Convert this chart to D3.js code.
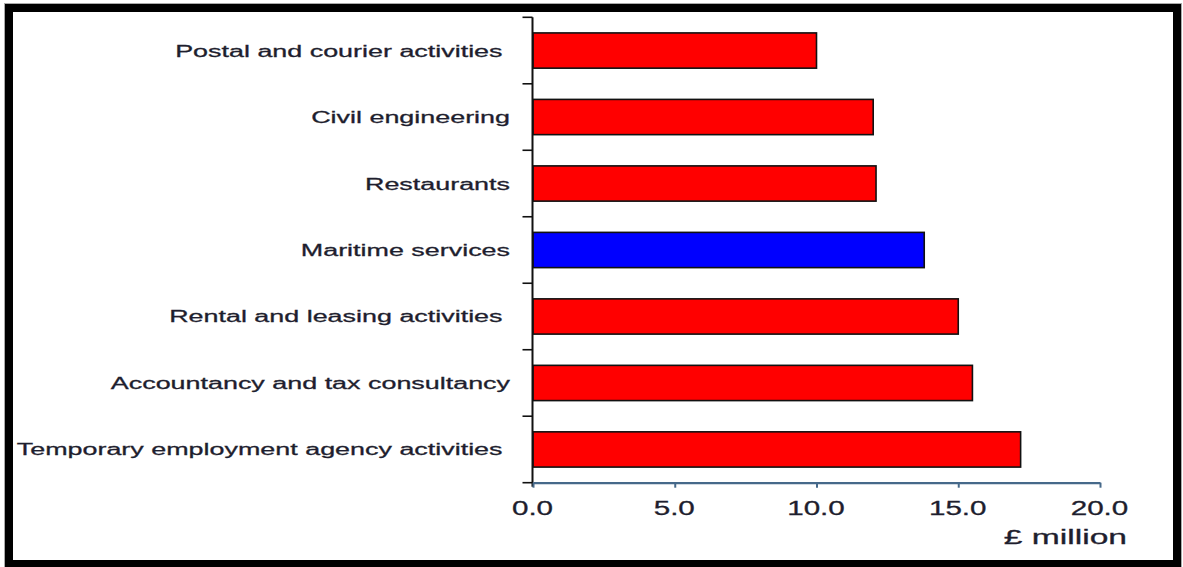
<!DOCTYPE html>
<html>
<head>
<meta charset="utf-8">
<script src="https://cdn.jsdelivr.net/npm/d3@7"></script>
<style>
  html, body { margin: 0; padding: 0; background: #fff; }
  svg { display: block; }
  text { font-family: "Liberation Sans", Arial, sans-serif; fill: #1e1e2e; stroke: #1e1e2e; stroke-width: 0.3px; }
</style>
</head>
<body>
<svg id="chart" width="1183" height="567"></svg>
<script>
// Industries, top to bottom (trailing spaces are part of the printed labels)
const categories = [
  "Postal and courier activities ",
  "Civil engineering",
  "Restaurants",
  "Maritime services",
  "Rental and leasing activities ",
  "Accountancy and tax consultancy",
  "Temporary employment agency activities "
];
// Value in £ million
const values = [10.0, 12.0, 12.1, 13.8, 15.0, 15.5, 17.2];
// Highlighted industry drawn in blue
const highlight = ["Maritime services"];
const xTicks = [0, 5, 10, 15, 20];
const unitLabel = "£ million";

const svg = d3.select("#chart");

// Framed border around the whole chart
svg.append("rect")
  .attr("x", 4.5).attr("y", 3.5).attr("width", 1177).attr("height", 567)
  .attr("fill", "none").attr("stroke", "#aaa").attr("stroke-width", 1);
svg.append("rect")
  .attr("x", 9).attr("y", 8).attr("width", 1168).attr("height", 556)
  .attr("fill", "none").attr("stroke", "#000").attr("stroke-width", 8);

const plot = { left: 533, right: 1100, top: 17.3, bottom: 482.7 };

const x = d3.scaleLinear().domain([0, 20]).range([plot.left, plot.right]);
const y = d3.scaleBand().domain(categories)
  .range([plot.top, plot.bottom])
  .paddingInner(0.47).paddingOuter(0.235);

// Bars
svg.append("g").selectAll("rect")
  .data(categories)
  .join("rect")
  .attr("x", x(0))
  .attr("y", d => y(d))
  .attr("width", (d, i) => x(values[i]) - x(0))
  .attr("height", y.bandwidth())
  .attr("fill", d => highlight.includes(d.trim()) ? "#0000ff" : "#ff0000")
  .attr("stroke", "#111")
  .attr("stroke-width", 1.6);

// Category axis: line with ticks at the band boundaries
const yAxis = svg.append("g");
yAxis.append("line")
  .attr("x1", plot.left - 0.5).attr("x2", plot.left - 0.5)
  .attr("y1", plot.top).attr("y2", plot.bottom + 4)
  .attr("stroke", "#111").attr("stroke-width", 2);
yAxis.selectAll("line.tick")
  .data(d3.range(categories.length + 1))
  .join("line")
  .attr("class", "tick")
  .attr("x1", plot.left - 10.5).attr("x2", plot.left - 0.5)
  .attr("y1", i => plot.top + i * y.step())
  .attr("y2", i => plot.top + i * y.step())
  .attr("stroke", "#111").attr("stroke-width", 1.6);

// Category labels (wide typeface look via horizontal scale)
svg.append("g").selectAll("text")
  .data(categories)
  .join("text")
  .attr("transform", d => `translate(510,${y(d) + y.bandwidth() / 2 + 6}) scale(1.555,1)`)
  .attr("text-anchor", "end")
  .style("white-space", "pre")
  .attr("font-size", 17.3)
  .text(d => d);

// Value axis
const xAxis = svg.append("g")
  .attr("transform", `translate(0,${plot.bottom})`)
  .call(d3.axisBottom(x).tickValues(xTicks).tickFormat(d3.format(".1f")).tickSize(5).tickSizeOuter(0));
xAxis.select(".domain").attr("stroke", "#46698a").attr("stroke-width", 2.2);
xAxis.selectAll(".tick line").attr("stroke", "#46698a").attr("stroke-width", 2);
xAxis.selectAll(".tick text")
  .attr("y", 0).attr("dy", 0)
  .attr("transform", "translate(-1,32) scale(1.48,1)")
  .attr("font-size", 20)
  .attr("font-family", "Liberation Sans, Arial, sans-serif")
  .attr("fill", "#1e1e2e");

// Unit label
svg.append("text")
  .attr("transform", "translate(1127,544) scale(1.68,1)")
  .attr("text-anchor", "end")
  .attr("font-size", 20)
  .text(unitLabel);
</script>
</body>
</html>
